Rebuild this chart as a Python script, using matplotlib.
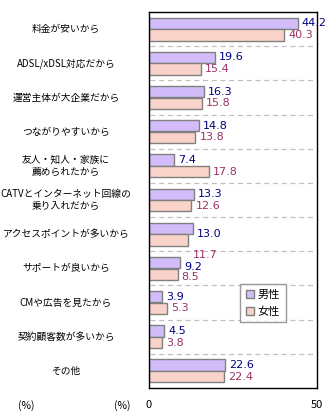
import matplotlib
matplotlib.use("Agg")
import matplotlib.pyplot as plt
from matplotlib.patches import Patch

plt.rcParams['font.family'] = ['Noto Sans CJK JP', 'DejaVu Sans']

categories = ["料金が安いから", "ADSL/xDSL対応だから", "運営主体が大企業だから", "つながりやすいから",
              "友人・知人・家族に\n薦められたから", "CATVとインターネット回線の\n乗り入れだから",
              "アクセスポイントが多いから", "サポートが良いから", "CMや広告を見たから",
              "契約顧客数が多いから", "その他"]
male = [44.2, 19.6, 16.3, 14.8, 7.4, 13.3, 13.0, 9.2, 3.9, 4.5, 22.6]
female = [40.3, 15.4, 15.8, 13.8, 17.8, 12.6, 11.7, 8.5, 5.3, 3.8, 22.4]
series_names = ["男性", "女性"]
x_ticks = [0, 50]

male_color = "#d2bcfa"
female_color = "#f9d3ca"
edge = "#808080"
male_txt = "#000080"
female_txt = "#993366"

# label vertical shifts (data units) to mimic reference placement
male_shift = {6: 0.17}
female_shift = {6: 0.45, 7: 0.08}
male_shift[7] = 0.13

W, H = 327, 420
fig = plt.figure(figsize=(W / 100, H / 100), dpi=100)
ax = fig.add_axes([149 / W, 1 - 388 / H, (317 - 149) / W, (388 - 12) / H])

n = len(categories)
ys = list(range(n))
bh = 0.33
ax.barh([y - 0.17 for y in ys], male, height=bh, color=male_color, edgecolor=edge, linewidth=1.0)
ax.barh([y + 0.17 for y in ys], female, height=bh, color=female_color, edgecolor=edge, linewidth=1.0)

for i in range(n - 1):
    ax.axhline(i + 0.5, xmin=0.005, xmax=0.98, color="#c0c0c0", linestyle=(0, (4, 3)), linewidth=0.9)

for i, (m, f) in enumerate(zip(male, female)):
    ax.annotate(f"{m:.1f}", (m, i - 0.17 + male_shift.get(i, 0)), xytext=(3, 0), textcoords="offset points",
                ha="left", va="center", fontsize=8, color=male_txt, family="DejaVu Sans")
    ax.annotate(f"{f:.1f}", (f, i + 0.17 + female_shift.get(i, 0)), xytext=(3, 0), textcoords="offset points",
                ha="left", va="center", fontsize=8, color=female_txt, family="DejaVu Sans")

ax.set_xlim(0, 50)
ax.set_ylim(n - 0.5, -0.5)
ax.set_yticks([])
ax.set_xticks(x_ticks)
ax.set_xticklabels([str(t) for t in x_ticks], fontsize=8)
ax.tick_params(axis="x", length=0, pad=9)
for s in ax.spines.values():
    s.set_color("black")
    s.set_linewidth(1.0)

for i, c in enumerate(categories):
    ydisp = ax.transData.transform((0, i))[1]
    yf = ydisp / (H)
    fig.text(66 / W, yf, c, ha="center", va="center", fontsize=7, linespacing=1.25)

fig.text(26 / W, 1 - 406 / H, "(%)", ha="center", va="center", fontsize=7.5)
fig.text(122 / W, 1 - 406 / H, "(%)", ha="center", va="center", fontsize=7.5)

handles = [Patch(facecolor=male_color, edgecolor=edge), Patch(facecolor=female_color, edgecolor=edge)]
leg = fig.legend(handles, series_names, loc="upper left",
                 bbox_to_anchor=(240 / W, 1 - 284 / H), fontsize=8, frameon=True, fancybox=False,
                 handlelength=0.8, handleheight=0.8, handletextpad=0.3, borderpad=0.5, labelspacing=0.6,
                 borderaxespad=0)
leg.get_frame().set_edgecolor(edge)
leg.get_frame().set_linewidth(1.0)

fig.savefig("out.png", dpi=100)
